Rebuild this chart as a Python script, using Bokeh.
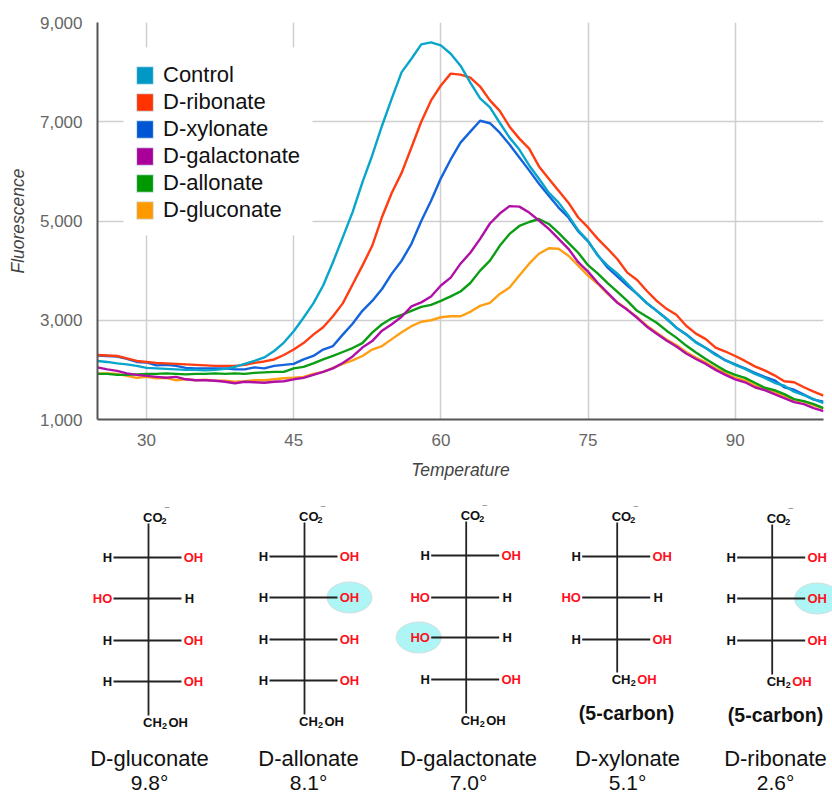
from bokeh.plotting import figure
from bokeh.models import Range1d, FixedTicker, NumeralTickFormatter, Legend, LegendItem, BoxAnnotation
from bokeh.core.properties import value
from bokeh.embed import file_html
from bokeh.resources import INLINE

FONT = "Liberation Sans"

temperature = list(range(25, 100))

control = [2180,2160,2130,2110,2080,2040,2030,2020,2010,2000,2000,1990,2000,2020,2060,2120,2180,2250,2380,2550,
           2780,3050,3340,3700,4170,4670,5180,5780,6320,6920,7470,8000,8270,8560,8600,8540,8370,8130,7790,7470,
           7290,6980,6680,6440,6120,5850,5570,5370,5110,4810,4600,4300,4100,3940,3740,3530,3350,3190,3030,2850,
           2710,2550,2440,2300,2200,2100,2020,1920,1840,1740,1680,1560,1490,1410,1330]
ribonate = [2300,2290,2280,2230,2180,2160,2140,2130,2120,2110,2100,2090,2080,2080,2080,2100,2140,2170,2210,2300,
            2410,2540,2710,2860,3080,3340,3720,4100,4500,5080,5570,5970,6480,7000,7430,7730,7970,7950,7890,7710,
            7430,7220,6900,6660,6460,6100,5850,5610,5370,5070,4870,4640,4440,4230,3960,3810,3590,3390,3230,3110,
            2890,2730,2620,2450,2370,2280,2180,2070,1990,1890,1770,1750,1650,1560,1480]
xylonate = [2290,2280,2270,2220,2160,2150,2090,2100,2080,2040,2030,2030,2030,2030,2010,2010,2050,2030,2080,2100,
            2120,2210,2280,2410,2480,2710,2930,3190,3390,3630,3940,4200,4540,5000,5410,5860,6240,6580,6800,7020,
            6970,6780,6540,6280,6020,5750,5510,5270,5070,4790,4590,4310,4060,3880,3700,3530,3340,3190,3030,2850,
            2720,2560,2440,2320,2190,2110,2030,1940,1860,1790,1650,1600,1500,1400,1360]
galactonate = [2050,2010,1980,1930,1900,1880,1860,1840,1860,1810,1790,1790,1780,1760,1730,1760,1750,1740,1760,1770,
               1810,1840,1900,1960,2030,2140,2270,2450,2580,2790,2920,3070,3280,3360,3480,3700,3860,4140,4360,4640,
               4950,5150,5300,5290,5170,5010,4840,4640,4440,4170,3980,3750,3550,3350,3210,3050,2870,2730,2590,2470,
               2330,2220,2120,2000,1900,1810,1750,1650,1590,1510,1430,1350,1310,1230,1170]
allonate = [1920,1920,1900,1900,1910,1920,1920,1930,1920,1910,1920,1920,1930,1920,1930,1920,1940,1950,1960,1960,
            2030,2060,2130,2210,2280,2360,2440,2540,2750,2920,3040,3110,3190,3270,3310,3390,3480,3580,3750,4000,
            4200,4500,4740,4900,4980,5040,4940,4760,4560,4360,4110,3940,3750,3570,3390,3190,3070,2950,2790,2650,
            2490,2350,2220,2100,1980,1900,1840,1740,1640,1590,1510,1410,1370,1310,1230]
gluconate = [1930,1930,1920,1880,1840,1860,1830,1840,1790,1810,1790,1800,1780,1780,1760,1770,1790,1790,1810,1830,
             1840,1860,1920,1960,2040,2120,2190,2280,2410,2480,2620,2760,2880,2970,3000,3060,3080,3080,3170,3290,
             3350,3530,3660,3900,4140,4340,4450,4440,4300,4100,3900,3730,3530,3360,3220,3060,2890,2750,2610,2500,
             2360,2250,2150,2030,1930,1840,1790,1690,1620,1550,1480,1390,1360,1290,1220]

series_names = ["Control", "D-ribonate", "D-xylonate", "D-galactonate", "D-allonate", "D-gluconate"]
series_values = [control, ribonate, xylonate, galactonate, allonate, gluconate]
line_colors = ["#0AA5CB", "#FF3D12", "#1464DC", "#B010A5", "#0B9E14", "#FF9F14"]
legend_colors = ["#0099C6", "#FF3300", "#0055D5", "#AA0099", "#009900", "#FF9900"]
x_ticks = [30, 45, 60, 75, 90]
y_ticks = [1000, 3000, 5000, 7000, 9000]

# --- chart ---
p = figure(width=832, height=490, x_range=Range1d(25, 99), y_range=Range1d(1000, 9000),
           output_backend="svg", toolbar_location=None,
           min_border_left=97, min_border_right=9, min_border_top=22, min_border_bottom=71)
p.outline_line_color = None
p.background_fill_color = "white"
p.xaxis.ticker = FixedTicker(ticks=x_ticks)
p.yaxis.ticker = FixedTicker(ticks=y_ticks)
p.yaxis.formatter = NumeralTickFormatter(format="0,0")
for ax in (p.xaxis[0], p.yaxis[0]):
    ax.axis_line_color = "#555555"
    ax.axis_line_width = 2
    ax.major_tick_line_color = None
    ax.minor_tick_line_color = None
    ax.major_label_text_font = FONT
    ax.major_label_text_font_size = "17px"
    ax.major_label_text_color = "#666666"
    ax.axis_label_text_font = FONT
    ax.axis_label_text_font_size = "17.5px"
    ax.axis_label_text_font_style = "italic"
    ax.axis_label_text_color = "#444444"
p.xaxis.axis_label = "Temperature"
p.yaxis.axis_label = "Fluorescence"
p.xaxis.major_label_standoff = 8
p.yaxis.major_label_standoff = 9
p.xaxis.axis_label_standoff = 11
p.yaxis.axis_label_standoff = 9
p.grid.grid_line_color = "#CFCFCF"
p.grid.grid_line_width = 1.5

p.add_layout(BoxAnnotation(left=123, right=312, top=47, bottom=235,
                           left_units="canvas", right_units="canvas", top_units="canvas", bottom_units="canvas",
                           fill_color="white", fill_alpha=1, line_color=None, level="underlay"))

for name, vals, col in reversed(list(zip(series_names, series_values, line_colors))):
    p.line(temperature, vals, line_color=col, line_width=2.4, line_join="round")

nan = float("nan")
items = []
for name, col in zip(series_names, legend_colors):
    r = p.quad(left=[nan], right=[nan], top=[nan], bottom=[nan], fill_color=col, line_color="#D8E8F0", line_width=1)
    items.append(LegendItem(label=name, renderers=[r]))
legend = Legend(items=items, location=(37, 196), padding=0, margin=0, spacing=1,
                glyph_width=21, glyph_height=22, label_height=18, label_standoff=8,
                label_text_font=FONT, label_text_font_size="22px", label_text_color="#111111",
                background_fill_alpha=0, border_line_color=None)
p.add_layout(legend, "center")

# --- structures ---
struct_names = ["D-gluconate", "D-allonate", "D-galactonate", "D-xylonate", "D-ribonate"]
struct_angles = ["9.8°", "8.1°", "7.0°", "5.1°", "2.6°"]
struct_notes = ["", "", "", "(5-carbon)", "(5-carbon)"]
# each row: (left group, right group)
struct_rows = [
    [("H", "OH"), ("HO", "H"), ("H", "OH"), ("H", "OH")],
    [("H", "OH"), ("H", "OH"), ("H", "OH"), ("H", "OH")],
    [("H", "OH"), ("HO", "H"), ("HO", "H"), ("H", "OH")],
    [("H", "OH"), ("HO", "H"), ("H", "OH")],
    [("H", "OH"), ("H", "OH"), ("H", "OH")],
]
struct_highlight = [None, (1, "R"), (2, "L"), None, (1, "R")]
struct_red_tail = [False, False, False, True, True]

# layout of the drawing, in pixels of the lower panel
centers = [148, 304, 465.7, 616.7, 771.7]
row_ys = [[557, 598, 640, 681], [556, 597, 639, 680], [555, 597, 637, 679], [556, 597, 639], [557, 598, 640]]
top_ys = [517, 516, 515, 516, 518]
tail_ys = [722, 721, 720, 679, 681]
note_pos = [None, None, None, (626, 712), (775, 714)]
name_xs = [149, 308, 468, 627, 775]

q = figure(width=832, height=304, x_range=Range1d(0, 832), y_range=Range1d(794, 490),
           output_backend="svg", toolbar_location=None,
           min_border_left=0, min_border_right=0, min_border_top=0, min_border_bottom=0)
q.axis.visible = False
q.grid.visible = False
q.outline_line_color = None

BLACK, RED = "#111111", "#FF1020"
texts = {"x": [], "y": [], "t": [], "c": []}
small = {"x": [], "y": [], "t": [], "c": []}
def T(store, x, y, t, c=BLACK):
    store["x"].append(x); store["y"].append(y); store["t"].append(t); store["c"].append(c)

ell_x, ell_y = [], []
seg = {"x0": [], "x1": [], "y0": [], "y1": []}
for i, rows in enumerate(struct_rows):
    c = centers[i]
    hl = struct_highlight[i]
    if hl:
        ell_x.append(c + 45 if hl[1] == "R" else c - 47.5)
        ell_y.append(row_ys[i][hl[0]])
    seg["x0"].append(c); seg["x1"].append(c)
    seg["y0"].append(top_ys[i] + 6); seg["y1"].append(tail_ys[i] - 7)
    for (lg, rg), y in zip(rows, row_ys[i]):
        seg["x0"].append(c - 35); seg["x1"].append(c + 33)
        seg["y0"].append(y); seg["y1"].append(y)
        T(texts, c - (41 if lg == "H" else 46), y, lg, BLACK if lg == "H" else RED)
        T(texts, c + (41 if rg == "H" else 45), y, rg, BLACK if rg == "H" else RED)

q.ellipse(ell_x, ell_y, width=45, height=31, fill_color="#AEF6F6", line_color="#D2DEDE", line_width=1)
q.segment("x0", "y0", "x1", "y1", source=seg, line_color="#222222", line_width=1.8)
q.text(x="x", y="y", text="t", text_color="c", source=texts,
       text_font=value(FONT), text_font_style="bold", text_font_size="13px",
       text_align="center", text_baseline="middle")

# CO2- heads and CH2OH tails, drawn in pieces because of the subscripts
left = {"x": [], "y": [], "t": [], "c": []}
for i, c in enumerate(centers):
    T(left, c - 5.5, top_ys[i], "CO")
    T(small, c + 15.5, top_ys[i] + 3, "2")
    T(small, c + 18.5, top_ys[i] - 11, "–", "#999999")
    tail = tail_ys[i]
    T(left, c - 5.5, tail, "CH")
    T(small, c + 16, tail + 3, "2")
    T(left, c + 20, tail, "OH", RED if struct_red_tail[i] else BLACK)
q.text(x="x", y="y", text="t", text_color="c", source=left,
       text_font=value(FONT), text_font_style="bold", text_font_size="13px",
       text_align="left", text_baseline="middle")
q.text(x="x", y="y", text="t", text_color="c", source=small,
       text_font=value(FONT), text_font_style="bold", text_font_size="9px",
       text_align="center", text_baseline="middle")

notes_x = [n[0] for n in note_pos if n]
notes_y = [n[1] for n in note_pos if n]
notes_t = [t for t in struct_notes if t]
q.text(notes_x, notes_y, text=notes_t, text_color=BLACK, text_font=value(FONT), text_font_style="bold",
       text_font_size="19.5px", text_align="center", text_baseline="middle")
q.text(name_xs, [758] * 5, text=struct_names, text_color=BLACK, text_font=value(FONT),
       text_font_size="22px", text_align="center", text_baseline="middle")
q.text(name_xs, [782] * 5, text=struct_angles, text_color=BLACK, text_font=value(FONT),
       text_font_size="21px", text_align="center", text_baseline="middle")

open("out.html", "w").write(file_html([p, q], INLINE))
